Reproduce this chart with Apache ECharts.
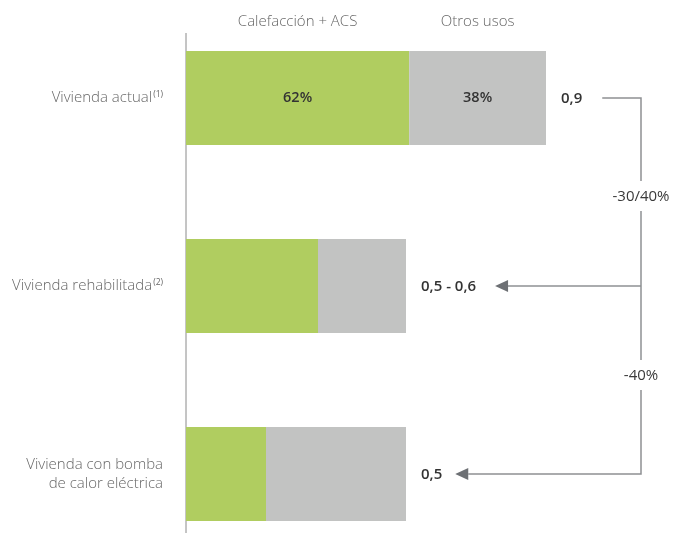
<!DOCTYPE html>
<html>
<head>
<meta charset="utf-8">
<script src="https://cdn.jsdelivr.net/npm/echarts@6/dist/echarts.min.js"></script>
<style>
  html, body { margin: 0; padding: 0; background: #fff; }
  #chart { width: 673px; height: 533px; }
</style>
</head>
<body>
<div id="chart"></div>
<script>
// Consumo energético por tipo de vivienda
const categories = ['Vivienda actual', 'Vivienda rehabilitada', 'Vivienda con bomba\nde calor eléctrica'];
const notes = ['(1)', '(2)', ''];
const seriesNames = ['Calefacción + ACS', 'Otros usos'];
const heating = [0.558, 0.33, 0.2];
const otherUses = [0.342, 0.22, 0.35];
const heatingShare = ['62%', '', ''];
const otherShare = ['38%', '', ''];
const totalLabels = ['0,9', '0,5 - 0,6', '0,5'];
const reductionLabels = ['-30/40%', '-40%'];

const FONT = '"Open Sans", Lato, sans-serif';
const GREEN = '#b0cd60';
const GREY = '#c2c3c2';
const LINE = '#8e9093';
const ARROW = '#6d7074';
const TEXT = '#666666';

const chart = echarts.init(document.getElementById('chart'));

chart.setOption({
  animation: false,
  grid: { left: 186, width: 400, top: 4, height: 564, outerBoundsMode: 'none', containLabel: false },
  xAxis: { type: 'value', min: 0, max: 1, show: false },
  yAxis: {
    type: 'category',
    inverse: true,
    data: categories,
    axisLine: { show: false },
    axisTick: { show: false },
    axisLabel: {
      margin: 23,
      formatter: function (value, idx) {
        const lines = value.split('\n').map(function (l) { return '{a|' + l + '}'; });
        if (notes[idx]) lines[lines.length - 1] += '{s|' + notes[idx] + '}';
        return lines.join('\n');
      },
      rich: {
        a: { fontFamily: FONT, fontSize: 15, color: TEXT, lineHeight: 19, fontWeight: 300 },
        s: { fontFamily: FONT, fontSize: 8.5, color: TEXT, lineHeight: 19, padding: [0, 0, 8, 1], verticalAlign: 'bottom' }
      }
    }
  },
  series: [
    {
      name: seriesNames[0], type: 'bar', stack: 'total', data: heating, barWidth: 94,
      itemStyle: { color: GREEN },
      label: {
        show: true, position: 'inside', fontFamily: FONT, fontSize: 14.5, fontWeight: 600, color: '#333',
        formatter: function (p) { return heatingShare[p.dataIndex]; }
      }
    },
    {
      name: seriesNames[1], type: 'bar', stack: 'total', data: otherUses, barWidth: 94,
      itemStyle: { color: GREY },
      label: {
        show: true, position: 'inside', fontFamily: FONT, fontSize: 14.5, fontWeight: 600, color: '#333',
        formatter: function (p) { return otherShare[p.dataIndex]; }
      }
    }
  ]
});

// Annotations placed from the chart's own coordinate conversion
const measure = document.createElement('canvas').getContext('2d');
function textWidth(t, font) { measure.font = font; return measure.measureText(t).width; }

const px = function (v, i) { return chart.convertToPixel({ gridIndex: 0 }, [v, i]); };
const totals = heating.map(function (h, i) { return h + otherUses[i]; });
const ends = totals.map(function (t, i) { return px(t, i); });
const origin = px(0, 0);
const graphic = [];

// Vertical axis line
graphic.push({
  type: 'line', silent: true,
  shape: { x1: origin[0], y1: 33, x2: origin[0], y2: 533 },
  style: { stroke: '#8a8a8a', lineWidth: 1 }
});

// Series names above the first bar's segments
const segStart = [0, heating[0]];
const segEnd = [heating[0], totals[0]];
seriesNames.forEach(function (name, k) {
  const a = px(segStart[k], 0)[0], b = px(segEnd[k], 0)[0];
  graphic.push({
    type: 'text', silent: true, x: (a + b) / 2, y: 22,
    style: { text: name, font: '300 15px ' + FONT, fill: TEXT, align: 'center', verticalAlign: 'middle' }
  });
});

// Totals to the right of each bar
const valFont = '600 15px ' + FONT;
const labelEnds = [];
ends.forEach(function (p, i) {
  const x = p[0] + 15;
  graphic.push({
    type: 'text', silent: true, x: x, y: p[1] + 1,
    style: { text: totalLabels[i], font: valFont, fill: '#333', align: 'left', verticalAlign: 'middle' }
  });
  labelEnds.push(x + textWidth(totalLabels[i], valFont));
});

// Reduction connector
const railX = ends[0][0] + 95;
const y0 = ends[0][1], y1 = ends[1][1], y2 = ends[2][1];
const lab1Y = (y0 + y1) / 2 + 5;
const lab2Y = (y1 + y2) / 2 - 4;
const gap = 16;
const lineStyle = { stroke: LINE, lineWidth: 1.5, fill: null };
graphic.push({ type: 'polyline', silent: true, shape: { points: [[labelEnds[0] + 20, y0], [railX, y0], [railX, lab1Y - gap]] }, style: lineStyle });
graphic.push({ type: 'line', silent: true, shape: { x1: railX, y1: lab1Y + gap - 2, x2: railX, y2: lab2Y - gap }, style: lineStyle });
graphic.push({ type: 'polyline', silent: true, shape: { points: [[railX, lab2Y + gap - 2], [railX, y2], [labelEnds[2] + 26, y2]] }, style: lineStyle });
graphic.push({ type: 'line', silent: true, shape: { x1: railX, y1: y1, x2: labelEnds[1] + 30, y2: y1 }, style: lineStyle });

[[labelEnds[1] + 19, y1], [labelEnds[2] + 13, y2]].forEach(function (t) {
  graphic.push({
    type: 'polygon', silent: true,
    shape: { points: [[t[0], t[1]], [t[0] + 13, t[1] - 6], [t[0] + 13, t[1] + 6]] },
    style: { fill: ARROW }
  });
});

[lab1Y, lab2Y].forEach(function (y, k) {
  graphic.push({
    type: 'text', silent: true, x: railX, y: y,
    style: { text: reductionLabels[k], font: '500 15px ' + FONT, fill: '#3a3a3a', align: 'center', verticalAlign: 'middle' }
  });
});

chart.setOption({ graphic: graphic });
</script>
</body>
</html>
